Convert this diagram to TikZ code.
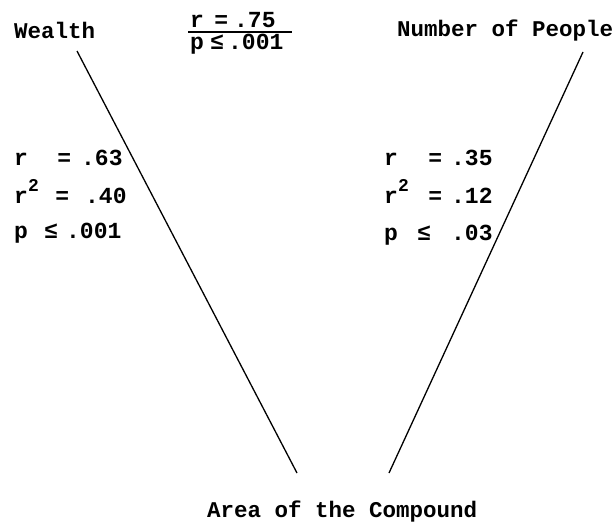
\documentclass[tikz,border=0pt]{standalone}
\usepackage{fontspec}
\setmainfont{Liberation Mono}
\tikzset{
  lbl/.style={font=\fontsize{22.5}{26}\selectfont\bfseries, inner sep=0pt, anchor=base west},
  stat/.style={font=\fontsize{23}{26}\selectfont\bfseries, inner sep=0pt, anchor=base west},
  conn/.style={line width=1.3pt, black}
}
\newcommand{\srow}[5]{\makebox[#1pt][l]{#3}\makebox[#2pt][c]{#4}#5}
\newcommand{\rsq}{r\raisebox{12pt}{\fontsize{18}{20}\selectfont 2}}
\begin{document}
\begin{tikzpicture}[x=1pt,y=1pt]
\useasboundingbox (0,0) rectangle (616,-525);
% top labels
\node[lbl] (wealth) at (14,-38) {Wealth};
\node[lbl] (people) at (397,-36) {Number of People};
\node[lbl] (area) at (207,-517) {Area of the Compound};
% fraction
\node[stat] (fr) at (190,-27) {\srow{18}{26}{r}{=}{.75}};
\node[stat] (fp) at (190,-49) {\srow{16}{22}{p}{≤}{.001}};
\coordinate (fl) at (188,-32);
\coordinate (frr) at (292,-32);
\draw[line width=1.1pt] (fl) -- (frr);
% left stats
\node[stat] (l1) at (14,-165) {\srow{33}{34}{r}{=}{.63}};
\node[stat] (l2) at (14,-203) {\srow{25}{46}{\rsq}{=}{.40}};
\node[stat] (l3) at (14,-238) {\srow{22}{30}{p}{≤}{.001}};
% right stats
\node[stat] (r1) at (384,-165) {\srow{35}{32}{r}{=}{.35}};
\node[stat] (r2) at (384,-203) {\srow{35}{32}{\rsq}{=}{.12}};
\node[stat] (r3) at (384,-240) {\srow{13}{54}{p}{≤}{.03}};
% connectors
\coordinate (wl) at (77,-51);
\coordinate (al) at (297,-473);
\coordinate (pl) at (583,-52);
\coordinate (ar) at (389,-473);
\draw[conn] (wl) -- (al);
\draw[conn] (pl) -- (ar);
\end{tikzpicture}
\end{document}
